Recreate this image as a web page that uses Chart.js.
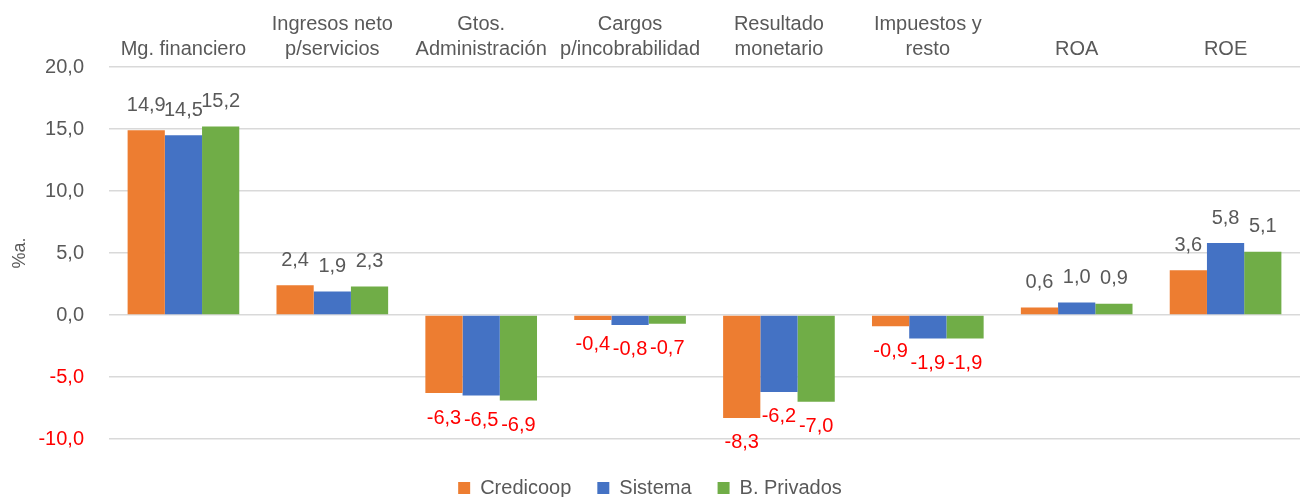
<!DOCTYPE html>
<html>
<head>
<meta charset="utf-8">
<script src="https://cdn.jsdelivr.net/npm/chart.js@4.4.1/dist/chart.umd.min.js"></script>
<style>
html,body{margin:0;padding:0;background:#fff;}
#wrap{width:1303px;height:497px;position:relative;}
</style>
</head>
<body>
<div id="wrap"><canvas id="c" width="1303" height="497"></canvas></div>
<script>
const categories = [
  ['Mg. financiero'],
  ['Ingresos neto', 'p/servicios'],
  ['Gtos.', 'Administración'],
  ['Cargos', 'p/incobrabilidad'],
  ['Resultado', 'monetario'],
  ['Impuestos y', 'resto'],
  ['ROA'],
  ['ROE']
];
const seriesNames = ['Credicoop', 'Sistema', 'B. Privados'];
const credicoop = [14.9, 2.4, -6.3, -0.4, -8.3, -0.9, 0.6, 3.6];
const sistema = [14.5, 1.9, -6.5, -0.8, -6.2, -1.9, 1.0, 5.8];
const privados = [15.2, 2.3, -6.9, -0.7, -7.0, -1.9, 0.9, 5.1];
const yMin = -10, yMax = 20, yStep = 5;
const colors = ['#ED7D31', '#4472C4', '#70AD47'];

const FONT = "'Liberation Sans', Arial, sans-serif";
const GREY = '#595959';
const RED = '#FF0000';

const fmt = v => v.toFixed(1).replace('.', ',');

const labelPlugin = {
  id: 'valueLabels',
  afterDatasetsDraw(chart) {
    const ctx = chart.ctx;
    ctx.save();
    ctx.font = '20px ' + FONT;
    ctx.textAlign = 'center';
    ctx.textBaseline = 'middle';
    chart.data.datasets.forEach((ds, di) => {
      const meta = chart.getDatasetMeta(di);
      meta.data.forEach((el, i) => {
        const v = ds.data[i];
        const neg = v < 0;
        ctx.fillStyle = neg ? RED : GREY;
        ctx.fillText(fmt(v), el.x, neg ? el.y + 25 : el.y - 25);
      });
    });
    ctx.restore();
  }
};

new Chart(document.getElementById('c'), {
  type: 'bar',
  data: {
    labels: categories,
    datasets: [
      { label: seriesNames[0], data: credicoop, backgroundColor: colors[0] },
      { label: seriesNames[1], data: sistema, backgroundColor: colors[1] },
      { label: seriesNames[2], data: privados, backgroundColor: colors[2] }
    ]
  },
  options: {
    responsive: false,
    animation: false,
    devicePixelRatio: 1,
    layout: { padding: { left: 0, right: 3, top: 7, bottom: -11 } },
    datasets: { bar: { barPercentage: 1, categoryPercentage: 0.75 } },
    scales: {
      x: {
        position: 'top',
        grid: { display: false, drawTicks: false },
        border: { display: false },
        ticks: { color: GREY, font: { family: FONT, size: 20, lineHeight: 1.25 }, padding: 5, maxRotation: 0, autoSkip: false }
      },
      xb: {
        type: 'linear',
        axis: 'x',
        position: 'bottom',
        display: true,
        grid: { display: false, drawTicks: false },
        border: { display: false },
        ticks: { display: false },
        afterFit: s => { s.height = 13; }
      },
      y: {
        min: yMin, max: yMax,
        grid: { color: '#D9D9D9', lineWidth: 1.5, drawTicks: false },
        border: { display: false },
        afterFit: s => { s.width = 109; },
        ticks: {
          stepSize: yStep,
          padding: 25,
          font: { family: FONT, size: 20 },
          color: ctx => ctx.tick && ctx.tick.value < 0 ? RED : GREY,
          callback: v => fmt(v)
        },
        title: { display: true, text: '%a.', color: GREY, font: { family: FONT, size: 18 }, padding: { top: 9, bottom: 0 } }
      }
    },
    plugins: {
      legend: {
        position: 'bottom',
        labels: { color: GREY, font: { family: FONT, size: 20 }, boxWidth: 12, boxHeight: 12, padding: 26 }
      },
      tooltip: { enabled: false }
    }
  },
  plugins: [labelPlugin]
});
</script>
</body>
</html>
